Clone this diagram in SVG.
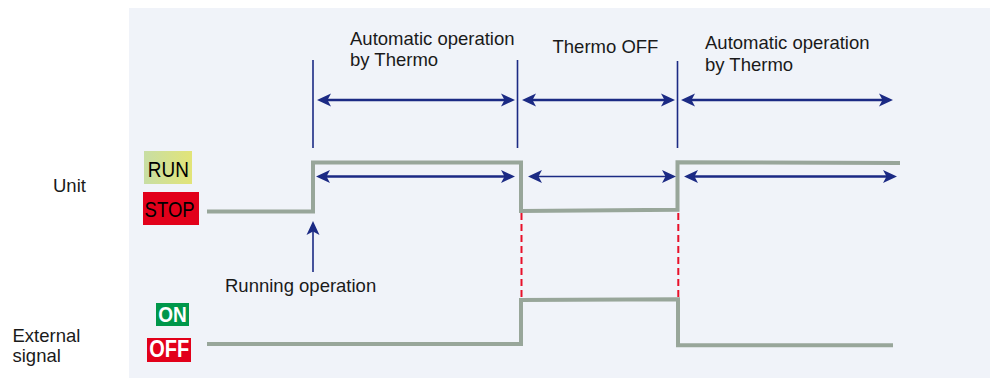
<svg xmlns="http://www.w3.org/2000/svg" width="990" height="378" viewBox="0 0 990 378">
<defs>
<linearGradient id="runGrad" x1="0" y1="0" x2="1" y2="0">
<stop offset="0" stop-color="#c8dea4"/>
<stop offset="1" stop-color="#e2e478"/>
</linearGradient>
<marker id="ah" markerUnits="userSpaceOnUse" markerWidth="14" markerHeight="13" refX="5" refY="6.5" orient="auto-start-reverse" overflow="visible">
<path d="M0,0 L14,6.5 L0,13 L3.5,6.5 z" fill="#1b2a84"/>
</marker>
<style>
.t{font-family:"Liberation Sans",Arial,sans-serif;font-size:18.5px;fill:#1a1a1a}
.sig{fill:none;stroke:#98a69a;stroke-width:4;stroke-linejoin:miter}
.mark{stroke:#1b2a84;stroke-width:1.6}
.arr{stroke:#1b2a84;stroke-width:2.6;marker-start:url(#ah);marker-end:url(#ah)}
.thin{stroke-width:1.6}
.dash{stroke:#e8102a;stroke-width:2;stroke-dasharray:7 4}
.lbl{font-family:"Liberation Sans",Arial,sans-serif;text-anchor:middle}
</style>
</defs>
<rect x="129" y="8" width="861" height="370" fill="#f0f3f9"/>

<g id="row-labels">
<text class="t" x="53" y="191.5">Unit</text>
<text class="t" x="12.5" y="342">External</text>
<text class="t" x="12.5" y="362">signal</text>
</g>

<g id="run">
<rect x="144" y="151" width="48" height="33" fill="url(#runGrad)"/>
<text class="lbl" x="168.3" y="176.5" font-size="22" fill="#000" textLength="41" lengthAdjust="spacingAndGlyphs">RUN</text>
</g>
<g id="stop">
<rect x="143" y="192" width="56" height="33" fill="#e2001a"/>
<text class="lbl" x="169.6" y="216.5" font-size="22" fill="#000" textLength="50" lengthAdjust="spacingAndGlyphs">STOP</text>
</g>
<g id="on">
<rect x="156" y="303" width="33" height="23" fill="#00974a"/>
<text class="lbl" x="172.5" y="322.3" font-size="22.5" font-weight="bold" fill="#fff" textLength="28.5" lengthAdjust="spacingAndGlyphs">ON</text>
</g>
<g id="off">
<rect x="147" y="338" width="44" height="24" fill="#e2001a"/>
<text class="lbl" x="169.3" y="356.7" font-size="23" font-weight="bold" fill="#fff" textLength="40" lengthAdjust="spacingAndGlyphs">OFF</text>
</g>

<g id="phase-labels">
<text class="t" x="350" y="45">Automatic operation</text>
<text class="t" x="350" y="66">by Thermo</text>
<text class="t" x="552.5" y="52.5" font-size="17">Thermo OFF</text>
<text class="t" x="705" y="48.5">Automatic operation</text>
<text class="t" x="705" y="70.5">by Thermo</text>
<text class="t" x="225" y="292">Running operation</text>
</g>

<g id="unit-signal">
<polyline class="sig" points="207,211.5 313,211.5 313,162.5 521,162.5 521,211 677.5,209.7 677.5,162.3 900,163"/>
</g>
<g id="external-signal">
<polyline class="sig" points="207,344 521,344 521,300 678,299.3 678,345.3 893,345.3"/>
</g>

<g id="connectors">
<line class="dash" x1="521.5" y1="213" x2="521.5" y2="299"/>
<line class="dash" x1="678.3" y1="213" x2="678.3" y2="298"/>
<line class="mark" x1="313" y1="60" x2="313" y2="148"/>
<line class="mark" x1="517.5" y1="60" x2="517.5" y2="148"/>
<line class="mark" x1="677.5" y1="61" x2="677.5" y2="148"/>
<line class="arr" x1="326" y1="100" x2="506" y2="100"/>
<line class="arr" x1="531" y1="100" x2="666" y2="100"/>
<line class="arr" x1="690" y1="100" x2="884" y2="100"/>
<line class="arr" x1="325" y1="176.5" x2="506" y2="176.5"/>
<line class="arr thin" x1="537" y1="176.5" x2="667" y2="176.5"/>
<line class="arr" x1="693" y1="176.5" x2="888" y2="176.5"/>
<line class="mark" x1="313" y1="272" x2="313" y2="230" marker-end="url(#ah)" stroke-width="2"/>
</g>
</svg>
